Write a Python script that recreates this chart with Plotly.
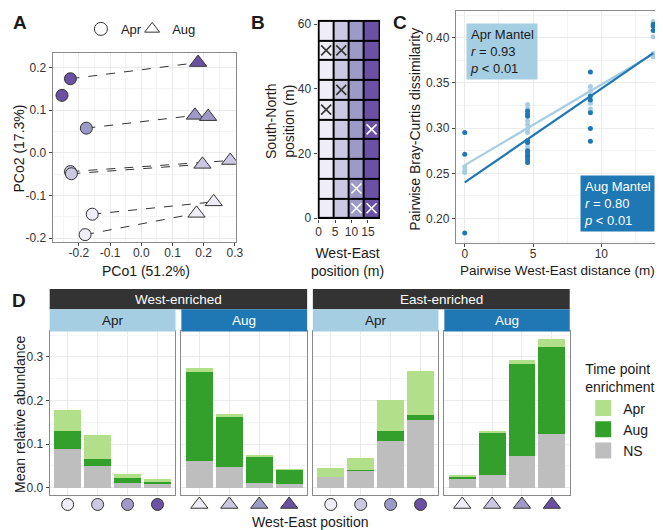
import plotly.graph_objects as go

W, H = 663, 530
FONT = 'Liberation Sans, Arial, sans-serif'

# colours for the four west-east columns (west -> east)
pos_colors = ['#efedf5', '#cbc9e2', '#9e9ac8', '#6a51a3']
apr_blue, aug_blue = '#a6cee3', '#1f78b4'
enrich_colors = {'Apr': '#b2df8a', 'Aug': '#33a02c', 'NS': '#bebebe'}

# ---- A: PCoA
apr_pc1 = [-0.227, -0.254, -0.176, -0.227, -0.224, -0.157, -0.180]
apr_pc2 = [0.174, 0.135, 0.058, -0.044, -0.049, -0.144, -0.192]
apr_col = [3, 3, 2, 1, 1, 0, 0]
aug_pc1 = [0.182, 0.172, 0.214, 0.196, 0.285, 0.232, 0.177]
aug_pc2 = [0.212, 0.088, 0.085, -0.027, -0.018, -0.115, -0.142]
aug_col = [3, 2, 2, 1, 1, 0, 0]
pairs = [(0, 0), (2, 1), (3, 4), (4, 3), (5, 5), (6, 6)]  # (apr idx, aug idx)
pc1_ticks = [-0.2, -0.1, 0.0, 0.1, 0.2, 0.3]
pc1_labels = ['-0.2', '-0.1', '0.0', '0.1', '0.2', '0.3']
pc2_ticks = [-0.2, -0.1, 0.0, 0.1, 0.2]
pc2_labels = ['-0.2', '-0.1', '0.0', '0.1', '0.2']

# ---- B: sampling grid
we_pos = [2.3, 6.9, 11.5, 16.1]
sn_pos = [3.05, 9.15, 15.25, 21.35, 27.45, 33.55, 39.65, 45.75, 51.85, 57.95]
missing = [(2, 0), (3, 0), (2, 1), (3, 4), (0, 5), (1, 6), (0, 8), (1, 8)]  # (column, row)

# ---- C: distance decay
apr_dist = [0, 0, 0,
            4.6, 4.6, 4.6, 4.6, 4.6, 4.6, 4.6, 4.6,
            9.2, 9.2, 9.2, 9.2, 9.2,
            13.8, 13.8, 13.8, 13.8]
apr_bc = [0.257, 0.253, 0.251,
          0.326, 0.322, 0.308, 0.304, 0.299, 0.295, 0.280, 0.277,
          0.346, 0.341, 0.3275, 0.321, 0.3185,
          0.418, 0.401, 0.3826, 0.379]
aug_dist = [0, 0, 0,
            4.6, 4.6, 4.6, 4.6, 4.6, 4.6, 4.6, 4.6, 4.6, 4.6, 4.6,
            9.2, 9.2, 9.2, 9.2, 9.2, 9.2,
            13.8, 13.8, 13.8]
aug_bc = [0.295, 0.271, 0.184,
          0.319, 0.3156, 0.313, 0.286, 0.284, 0.275, 0.273, 0.270, 0.268, 0.265, 0.262,
          0.362, 0.3355, 0.331, 0.317, 0.2996, 0.2855,
          0.415, 0.4127, 0.408]
fit_x = [0, 13.8]
apr_fit = [0.259, 0.382]
aug_fit = [0.240, 0.383]

# ---- D: enrichment bars (segment heights)
facets = [('West-enriched', 'Apr'), ('West-enriched', 'Aug'),
          ('East-enriched', 'Apr'), ('East-enriched', 'Aug')]
bar_pos = [1, 2, 3, 4]
ns_ab = [[0.0885, 0.050, 0.012, 0.009],
         [0.062, 0.0465, 0.011, 0.009],
         [0.024, 0.039, 0.1065, 0.155],
         [0.019, 0.030, 0.073, 0.124]]
aug_ab = [[0.0405, 0.015, 0.011, 0.005],
          [0.204, 0.1165, 0.060, 0.031],
          [0.001, 0.002, 0.0245, 0.0115],
          [0.006, 0.095, 0.210, 0.199]]
apr_ab = [[0.0495, 0.0565, 0.009, 0.007],
          [0.008, 0.006, 0.003, 0.001],
          [0.020, 0.028, 0.071, 0.1015],
          [0.0035, 0.005, 0.010, 0.0175]]


def xd(a, b):
    return [a / W, b / W]


def yd(top, bottom):
    return [1 - bottom / H, 1 - top / H]


def ax(domain, rng, **kw):
    d = dict(domain=domain, range=rng, showline=True, mirror=True, linecolor='#8a8a8a',
             linewidth=1, ticks='outside', ticklen=3, tickcolor='#444', tickwidth=1,
             tickfont=dict(size=12, color='#333'), showgrid=True, gridcolor='#ebebeb',
             gridwidth=1, zeroline=False)
    d.update(kw)
    return d


def note(text, x, y, size=14, color='#1a1a1a', **kw):
    d = dict(text=text, x=x / W, y=1 - y / H, xref='paper', yref='paper', showarrow=False,
             xanchor='center', yanchor='middle', font=dict(size=size, color=color, family=FONT))
    d.update(kw)
    return d


minor_grid = dict(showgrid=True, gridcolor='#f4f4f4', gridwidth=0.6, tick0=0)

fig = go.Figure()

# ---- A traces
seg_x, seg_y = [], []
for a, b in pairs:
    seg_x += [apr_pc1[a], aug_pc1[b], None]
    seg_y += [apr_pc2[a], aug_pc2[b], None]
fig.add_trace(go.Scatter(x=seg_x, y=seg_y, mode='lines', xaxis='x', yaxis='y',
                         line=dict(color='#333', width=1, dash='dash'), showlegend=False))
fig.add_trace(go.Scatter(x=apr_pc1, y=apr_pc2, mode='markers', xaxis='x', yaxis='y', showlegend=False,
                         marker=dict(symbol='circle', size=12, color=[pos_colors[c] for c in apr_col],
                                     line=dict(color='#333', width=1))))
fig.add_trace(go.Scatter(x=aug_pc1, y=aug_pc2, mode='markers', xaxis='x', yaxis='y', showlegend=False,
                         marker=dict(symbol='triangle-up', size=15, color=[pos_colors[c] for c in aug_col],
                                     line=dict(color='#333', width=1))))
for name, sym, lg in [('Apr', 'circle', 'legend2'), ('Aug', 'triangle-up', 'legend3')]:
    fig.add_trace(go.Scatter(x=[None], y=[None], mode='markers', name=name, legend=lg,
                             xaxis='x', yaxis='y',
                             marker=dict(symbol=sym, size=13, color='white', line=dict(color='#333', width=1))))

# ---- B traces
fig.add_trace(go.Heatmap(x=we_pos, y=sn_pos, z=[[j for j in range(4)] for _ in sn_pos],
                         xaxis='x2', yaxis='y2', zmin=0, zmax=3, showscale=False, xgap=2, ygap=2,
                         colorscale=[[0, pos_colors[0]], [1 / 3, pos_colors[1]],
                                     [2 / 3, pos_colors[2]], [1, pos_colors[3]]],
                         hoverinfo='skip'))
fig.add_trace(go.Scatter(x=[we_pos[c] for c, r in missing], y=[sn_pos[r] for c, r in missing],
                         mode='markers', xaxis='x2', yaxis='y2', showlegend=False,
                         marker=dict(symbol='x-thin', size=10,
                                     line=dict(width=1.6, color=['#333' if c < 2 else 'white' for c, r in missing]))))

# ---- C traces
fig.add_trace(go.Scatter(x=apr_dist, y=apr_bc, mode='markers', xaxis='x3', yaxis='y3', showlegend=False,
                         marker=dict(size=5, color=apr_blue)))
fig.add_trace(go.Scatter(x=aug_dist, y=aug_bc, mode='markers', xaxis='x3', yaxis='y3', showlegend=False,
                         marker=dict(size=5, color=aug_blue)))
fig.add_trace(go.Scatter(x=fit_x, y=apr_fit, mode='lines', xaxis='x3', yaxis='y3', showlegend=False,
                         line=dict(color=apr_blue, width=2.2)))
fig.add_trace(go.Scatter(x=fit_x, y=aug_fit, mode='lines', xaxis='x3', yaxis='y3', showlegend=False,
                         line=dict(color=aug_blue, width=2.2)))

# ---- D traces
for i, (group, tp) in enumerate(facets):
    xa, ya = 'x%d' % (i + 4), 'y%d' % (i + 4)
    for name, vals in [('NS', ns_ab[i]), ('Aug', aug_ab[i]), ('Apr', apr_ab[i])]:
        fig.add_trace(go.Bar(x=bar_pos, y=vals, width=0.9, xaxis=xa, yaxis=ya, showlegend=False,
                             marker=dict(color=enrich_colors[name], line=dict(width=0))))
    sym = 'circle' if tp == 'Apr' else 'triangle-up'
    fig.add_trace(go.Scatter(x=bar_pos, y=[0] * 4, mode='markers', xaxis='x%d' % (i + 8), yaxis='y8',
                             showlegend=False,
                             marker=dict(symbol=sym, size=12 if tp == 'Apr' else 15, color=pos_colors,
                                         line=dict(color='#333', width=1))))
for name in ['Apr', 'Aug', 'NS']:
    fig.add_trace(go.Scatter(x=[None], y=[None], mode='markers', name=name, xaxis='x4', yaxis='y4',
                             marker=dict(symbol='square', size=16, color=enrich_colors[name])))

# ---- layout
facet_px = [(40.3, 168), (174, 301.7), (307.5, 435), (441, 568.3)]
lay = dict(
    width=W, height=H, margin=dict(l=0, r=0, t=0, b=0), autosize=False,
    paper_bgcolor='white', plot_bgcolor='white', barmode='stack',
    font=dict(family=FONT, color='#1a1a1a'),
    xaxis=ax(xd(43.3, 229.3), [-0.284, 0.303], tickvals=pc1_ticks, ticktext=pc1_labels, anchor='y',
             ticklabelstandoff=-3, minor=dict(dtick=0.05, **minor_grid)),
    yaxis=ax(yd(42.7, 235), [-0.2093, 0.2345], tickvals=pc2_ticks, ticktext=pc2_labels, anchor='x',
             minor=dict(dtick=0.05, **minor_grid)),
    xaxis2=ax(xd(312.3, 375.8), [-0.3, 18.7], tickvals=[0, 5, 10, 15], showline=False, showgrid=False,
              ticklabelstandoff=-2, anchor='y2'),
    yaxis2=ax(yd(9, 211.7), [-0.3, 61.3], tickvals=[0, 20, 40, 60], showline=False, showgrid=False,
              anchor='x2'),
    xaxis3=ax(xd(452.7, 662.5), [-0.65, 14.48], dtick=5, tick0=0, anchor='y3', ticklabelstandoff=-3,
              minor=dict(dtick=2.5, **minor_grid)),
    yaxis3=ax(yd(0.5, 236), [0.1729, 0.429], dtick=0.05, tick0=0, tickformat='.2f', anchor='x3',
              minor=dict(dtick=0.025, **minor_grid)),
    yaxis8=dict(domain=yd(494, 510), range=[-1, 1], visible=False, anchor='x8'),
    legend=dict(x=582 / W, y=1 - 351 / H, xanchor='left', yanchor='top', traceorder='normal',
                title=dict(text='Time point<br>enrichment', font=dict(size=14)),
                font=dict(size=14), itemsizing='trace', tracegroupgap=0, bgcolor='rgba(0,0,0,0)'),
    legend2=dict(x=72 / W, y=1 - 3 / H, xanchor='left', yanchor='top',
                 font=dict(size=13), bgcolor='rgba(0,0,0,0)'),
    legend3=dict(x=124 / W, y=1 - 3 / H, xanchor='left', yanchor='top',
                 font=dict(size=13), bgcolor='rgba(0,0,0,0)'),
)
for i, (x0, x1) in enumerate(facet_px):
    n = i + 4
    lay['xaxis%d' % n] = ax(xd(x0, x1), [0.4, 4.6], tickvals=bar_pos, showticklabels=False, ticks='',
                            anchor='y%d' % n)
    yk = dict(dtick=0.1, tick0=0, tickformat='.1f', anchor='x%d' % n,
              minor=dict(dtick=0.05, **minor_grid))
    if i > 0:
        yk.update(showticklabels=False, ticks='')
    lay['yaxis%d' % n] = ax(yd(326, 492.3), [-0.0164, 0.3581], **yk)
    lay['xaxis%d' % (i + 8)] = dict(domain=xd(x0, x1), range=[0.4, 4.6], visible=False, anchor='y8')

shapes = [dict(type='rect', xref='x2', yref='y2', x0=-0.3, x1=18.7, y0=-0.3, y1=61.3,
               fillcolor='black', line=dict(width=0), layer='below')]
annotations = []
for k, (a, b) in enumerate([(0, 1), (2, 3)]):
    x0, x1 = facet_px[a][0], facet_px[b][1]
    shapes.append(dict(type='rect', xref='paper', yref='paper', x0=x0 / W, x1=x1 / W,
                       y0=1 - 303.3 / H, y1=1 - 282.7 / H, fillcolor='#333333', line=dict(width=0)))
    annotations.append(note(facets[a][0], (x0 + x1) / 2, 293, size=13.5, color='white'))
for i, (x0, x1) in enumerate(facet_px):
    tp = facets[i][1]
    shapes.append(dict(type='rect', xref='paper', yref='paper', x0=x0 / W, x1=x1 / W,
                       y0=1 - 326 / H, y1=1 - 303.3 / H,
                       fillcolor=apr_blue if tp == 'Apr' else aug_blue, line=dict(width=0)))
    annotations.append(note(tp, (x0 + x1) / 2, 314.5, size=13.5, color='#1a1a1a' if tp == 'Apr' else 'white'))

annotations += [
    note('<b>A</b>', 10, 12, size=19), note('<b>B</b>', 252, 12, size=19),
    note('<b>C</b>', 396, 12, size=19), note('<b>D</b>', 9, 294, size=19),
    note('PCo1 (51.2%)', 138, 264), note('PCo2 (17.3%)', 9, 140, textangle=-90),
    note('South-North<br>position (m)', 274, 112, textangle=-90),
    note('West-East<br>position (m)', 343, 255),
    note('Pairwise Bray-Curtis dissimilarity', 411, 120, textangle=-90),
    note('Pairwise West-East distance (m)', 556, 264, size=13.5),
    note('Mean relative abundance', 10, 410, textangle=-90),
    note('West-East position', 305, 520),
    note('Apr Mantel<br><i>r</i> = 0.93<br><i>p</i> < 0.01', 463, 12, size=13, xanchor='left',
         yanchor='top', align='left', bgcolor=apr_blue, borderpad=3),
    note('Aug Mantel<br><i>r</i> = 0.80<br><i>p</i> < 0.01', 655, 225, size=13, color='white',
         xanchor='right', yanchor='bottom', align='left', bgcolor=aug_blue, borderpad=3),
]
lay['shapes'] = shapes
lay['annotations'] = annotations
fig.update_layout(**lay)

fig.write_html("out.html")
